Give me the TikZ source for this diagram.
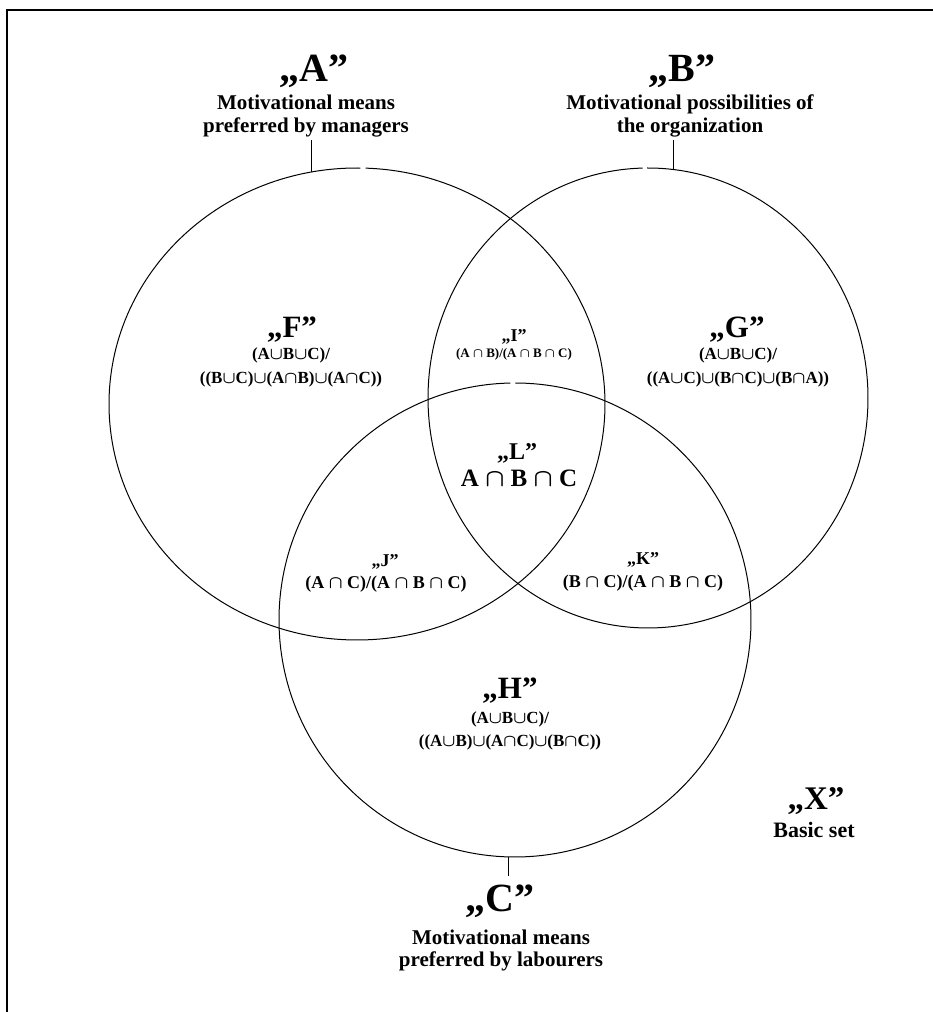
\documentclass[tikz,border=0pt]{standalone}
\usepackage{fix-cm}
\usepackage{fontspec}
\setmainfont{Liberation Serif}
\usetikzlibrary{positioning}

\newcommand{\mcup}{{$\cup$}}
\newcommand{\mcap}{{$\cap$}}

\tikzset{
  setline/.style={line width=1pt},
  tickline/.style={line width=0.8pt},
  frameline/.style={line width=1.6pt},
  lbl/.style={anchor=base, align=center, inner sep=2pt},
  bigname/.style={lbl, font=\fontsize{40}{44}\selectfont\bfseries},
  regname/.style={lbl, font=\fontsize{31}{34}\selectfont\bfseries},
  smallname/.style={lbl, font=\fontsize{18}{20}\selectfont\bfseries},
  desc/.style={lbl, font=\fontsize{21}{23}\selectfont\bfseries},
  formula/.style={lbl, font=\fontsize{17}{24}\selectfont\bfseries\boldmath},
}

\begin{document}
\begin{tikzpicture}[x=1pt,y=1pt]
    \useasboundingbox (0,0) rectangle (933,1012);
    \draw[frameline] (7,-20) |- (960,1002); % Frame of the basic set

    % The three sets (small gap left at the top of each)
    \coordinate (cA) at (357,608);
    \coordinate (cB) at (648,614);
    \coordinate (cC) at (515,392);
    \draw[setline] (cA) ++(89.2:248 and 236) arc (89.2:448:248 and 236);
    \draw[setline] (cB) ++(91.4:220 and 230) arc (91.4:450.2:220 and 230);
    \draw[setline] (cC) ++(91.1:236 and 237) arc (91.1:449.9:236 and 237);

    % Names of the sets
    \node[bigname] (nameA) at (314,930) {„A”};
    \node[desc]    (descA) at (306,879) {Motivational means\\preferred by managers};
    \node[bigname] (nameB) at (682,930) {„B”};
    \node[desc]    (descB) at (690,879) {Motivational possibilities of\\the organization};
    \node[bigname] (nameC) at (500,100) {„C”};
    \node[desc]    (descC) at (501,45)  {Motivational means\\preferred by labourers};

    \path (cA) ++(100.5:248 and 236) coordinate (tA);
    \path (cB) ++(83.5:220 and 230)  coordinate (tB);
    \path (cC) ++(268.5:236 and 237) coordinate (tC);
    \draw[tickline] (tA) -- (tA |- descA.south);
    \draw[tickline] (tB) -- (tB |- descB.south);
    \draw[tickline,shorten >=7pt] (tC) -- (tC |- nameC.north);

    % Regions
    \node[regname] (nameF) at (292,674) {„F”};
    \node[formula] (formF) at (291,628) {(A\mcup B\mcup C)/\\((B\mcup C)\mcup(A\mcap B)\mcup(A\mcap C))};
    \node[regname] (nameG) at (737,674) {„G”};
    \node[formula] (formG) at (738,628) {(A\mcup B\mcup C)/\\((A\mcup C)\mcup(B\mcap C)\mcup(B\mcap A))};
    \node[regname] (nameH) at (510,313) {„H”};
    \node[formula,font=\fontsize{17}{23}\selectfont\bfseries\boldmath] (formH) at (510,265) {(A\mcup B\mcup C)/\\((A\mcup B)\mcup(A\mcap C)\mcup(B\mcap C))};

    \node[smallname] (nameI) at (514,670) {„I”};
    \node[formula,font=\fontsize{13}{15}\selectfont\bfseries\boldmath] (formI) at (514,654) {(A \mcap\ B)/(A \mcap\ B \mcap\ C)};
    \node[regname,font=\fontsize{24}{26}\selectfont\bfseries] (nameL) at (517,552) {„L”};
    \node[formula,font=\fontsize{25}{27}\selectfont\bfseries\boldmath] (formL) at (519,525) {A \mcap\ B \mcap\ C};
    \node[smallname] (nameJ) at (385,445) {„J”};
    \node[formula,font=\fontsize{18}{20}\selectfont\bfseries\boldmath] (formJ) at (386,423) {(A \mcap\ C)/(A \mcap\ B \mcap\ C)};
    \node[smallname] (nameK) at (643,447) {„K”};
    \node[formula,font=\fontsize{18}{20}\selectfont\bfseries\boldmath] (formK) at (643,424) {(B \mcap\ C)/(A \mcap\ B \mcap\ C)};

    % Basic set
    \node[regname,font=\fontsize{33}{35}\selectfont\bfseries] (nameX) at (816,202) {„X”};
    \node[desc,font=\fontsize{22}{24}\selectfont\bfseries] (descX) at (814,174) {Basic set};
\end{tikzpicture}
\end{document}
